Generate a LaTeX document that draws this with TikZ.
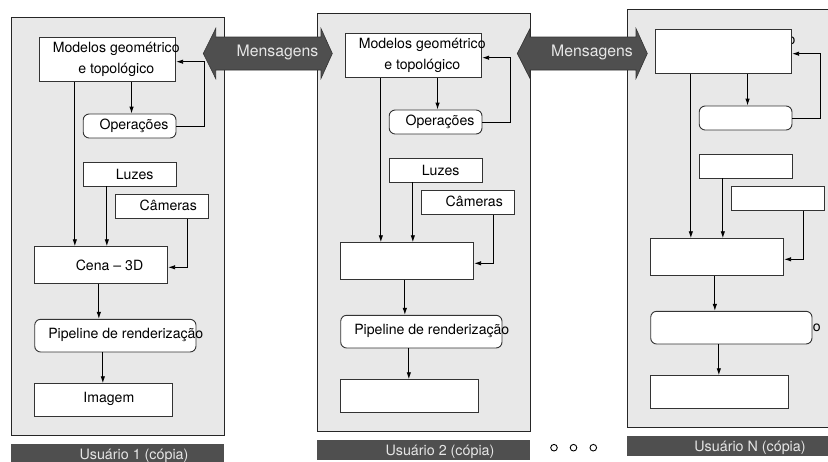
\documentclass[tikz,border=0pt]{standalone}
\usepackage{fontspec}
\setmainfont{TeX Gyre Heros}
\usetikzlibrary{arrows.meta}
\definecolor{panelbg}{HTML}{E8E8E8}
\definecolor{darkbar}{HTML}{4F4F4F}
\definecolor{bartext}{HTML}{E6E6E6}
\definecolor{edgecol}{HTML}{333333}
\tikzset{
  bx/.style={draw=edgecol, line width=0.9pt, fill=white, inner sep=0pt},
  rbx/.style={bx, rounded corners=6pt},
  txt/.style={inner sep=0pt, font=\fontsize{14.1}{21}\selectfont, align=center, text=black},
  conn/.style={draw=black, line width=0.9pt, -{Latex[length=7pt,width=4.5pt]}},
  link/.style={draw=black, line width=0.9pt},
  panelbox/.style={draw=black!85, line width=1pt, fill=panelbg, inner sep=0pt},
  userbar/.style={fill=darkbar, draw=none, inner sep=0pt},
  bartxt/.style={inner sep=0pt, font=\fontsize{14.3}{16}\selectfont, text=bartext},
  msgarrow/.style={fill=darkbar, draw=black!80, line width=0.6pt},
  msgtxt/.style={inner sep=0pt, font=\fontsize{15.8}{18}\selectfont, text=bartext},
  dot/.style={circle, draw=black, line width=0.9pt, minimum size=6.6pt, inner sep=0pt}
}
% #1 id, #2 modelos, #3 operacoes, #4 luzes, #5 cameras, #6 cena, #7 pipeline, #8 imagem, #9 label
\newcommand\userpanel[9]{%
  \node[panelbox, minimum width=213pt, minimum height=418.7pt] (pn#1) at (117.5,226.35) {};
  \node[userbar, minimum width=213pt, minimum height=20pt] (bar#1) at (117.5,454) {};
  \node[bartxt] (lb#1) at (134,455.7) {#9};
  \node[bx, minimum width=136.7pt, minimum height=44pt] (m#1) at (107.35,59.7) {};
  \node[rbx, minimum width=92.8pt, minimum height=24pt] (op#1) at (129.6,126) {};
  \node[bx, minimum width=93pt, minimum height=24pt] (lz#1) at (129.5,174) {};
  \node[bx, minimum width=92.6pt, minimum height=24.3pt] (cm#1) at (162,206.2) {};
  \node[bx, minimum width=133pt, minimum height=36.6pt] (ce#1) at (101.2,265) {};
  \node[rbx, minimum width=161.3pt, minimum height=32.7pt] (pp#1) at (115.35,335.65) {};
  \node[bx, minimum width=137.3pt, minimum height=32.3pt] (im#1) at (103.35,399.85) {};
  \node[txt] (tm#1) at (116.2,59) {#2};
  \node[txt] (top#1) at (134,126) {#3};
  \node[txt] (tlz#1) at (134.7,174) {#4};
  \node[txt] (tcm#1) at (168.3,205.7) {#5};
  \node[txt] (tce#1) at (109.5,265.7) {#6};
  \node[txt] (tpp#1) at (125.8,335.3) {#7};
  \node[txt] (tim#1) at (108.8,399.3) {#8};
  \coordinate (a#1) at ([xshift=36.3]m#1.south west);
  \coordinate (b#1) at ([xshift=24.3]lz#1.south west);
  \coordinate (c#1) at ([xshift=72.6]cm#1.south west);
  \coordinate (d#1) at ([xshift=93]m#1.south west);
  \coordinate (e#1) at ([xshift=64.6]ce#1.south west);
  \coordinate (f#1) at ([xshift=68.6]pp#1.south west);
  \coordinate (g#1) at (204,126);
  \coordinate (h#1) at (204,61.7);
  \draw[conn] (a#1) -- (a#1 |- ce#1.north);
  \draw[conn] (b#1) -- (b#1 |- ce#1.north);
  \draw[conn] (c#1) |- ([yshift=-2.3]ce#1.east);
  \draw[conn] (d#1) -- (d#1 |- op#1.north);
  \draw[conn] (op#1.east) -- (g#1) -- (h#1) -- (h#1 -| m#1.east);
  \draw[conn] (e#1) -- (e#1 |- pp#1.north);
  \draw[conn] (f#1) -- (f#1 |- im#1.north);
}
\begin{document}
\begin{tikzpicture}[x=1pt, y=-1pt]
  \useasboundingbox (0,0) rectangle (828,461);
  \clip (0,0) rectangle (828,461);
  \fill[white] (0,0) rectangle (828,461);
  \begin{scope}
    \userpanel{1}{Modelos geométrico\\e topológico}{Operações}{Luzes}{Câmeras}{Cena -- 3D}{Pipeline de renderização}{Imagem}{Usuário 1 (cópia)}
  \end{scope}
  \begin{scope}[shift={(306,-4)}]
    \userpanel{2}{Modelos geométrico\\e topológico}{Operações}{Luzes}{Câmeras}{}{Pipeline de renderização}{}{Usuário 2 (cópia)}
  \end{scope}
  \begin{scope}[shift={(616,-8)}]
    \userpanel{3}{}{}{}{}{}{}{}{Usuário N (cópia)}
    \begin{scope}
      \clip (176.2,30) rectangle (190,60);
      \node[txt] (om3) at (175.6,48.5) {o};
    \end{scope}
    \node[txt] (op3o) at (200.7,336.3) {o};
  \end{scope}
  % message arrows
  \draw[msgarrow] (203.3,53.5) -- (215.7,28.5) -- (215.7,37) -- (321,37) -- (321,28.5)
    -- (332.3,53.5) -- (321,78.5) -- (321,70) -- (215.7,70) -- (215.7,78.5) -- cycle;
  \node[msgtxt] (msg1) at (277.5,52.5) {Mensagens};
  \draw[msgarrow] (517.3,53.5) -- (530,28.5) -- (530,37) -- (636,37) -- (636,28.5)
    -- (647.3,53.5) -- (636,78.5) -- (636,70) -- (530,70) -- (530,78.5) -- cycle;
  \node[msgtxt] (msg2) at (592,52.5) {Mensagens};
  % ellipsis dots
  \node[dot] (dt1) at (554,447.7) {};
  \node[dot] (dt2) at (573.5,447.7) {};
  \node[dot] (dt3) at (593.3,447.7) {};
\end{tikzpicture}
\end{document}
